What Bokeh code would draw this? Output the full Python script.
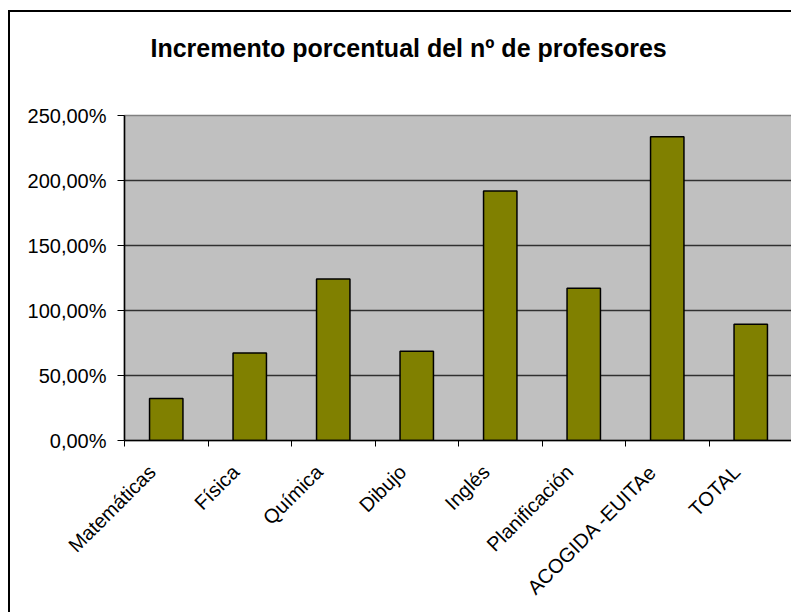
import math
from bokeh.plotting import figure
from bokeh.models import Range1d, FixedTicker, ColumnDataSource, CustomJSTickFormatter, Title
from bokeh.embed import file_html
from bokeh.resources import INLINE

title_text = "Incremento porcentual del nº de profesores"
categories = ["Matemáticas", "Física", "Química", "Dibujo", "Inglés",
              "Planificación", "ACOGIDA -EUITAe", "TOTAL"]
values = [32.3, 67.4, 124.3, 68.6, 191.9, 117.1, 233.7, 89.4]
y_ticks = [0, 50, 100, 150, 200, 250]
y_tick_labels = ["0,00%", "50,00%", "100,00%", "150,00%", "200,00%", "250,00%"]

n = len(categories)
x_centers = [i + 0.5 for i in range(n)]
# rotated labels sit slightly left of the category centre (as in the original)
label_pos = [c - 0.17 for c in x_centers]
source = ColumnDataSource(dict(x=x_centers, top=values, cat=categories))

FONT = "Liberation Sans"

p = figure(width=783, height=602, output_backend="svg", toolbar_location=None,
           x_range=Range1d(0, n), y_range=Range1d(y_ticks[0], y_ticks[-1]))
p.min_border_left = 114
p.min_border_right = 1
p.min_border_top = 103
p.min_border_bottom = 174
p.styles = {"border-left": "2px solid black", "border-top": "2px solid black",
            "margin-left": "8px", "margin-top": "10px"}

# spacer between plot area and title, then the title itself
spacer = Title(text=" ", text_font_size="1px", standoff=46)
main_title = Title(text=title_text, text_font=FONT, text_font_size="25px",
                   text_font_style="bold", text_color="black",
                   align="left", offset=26, standoff=10)
p.add_layout(spacer, "above")
p.add_layout(main_title, "above")

p.background_fill_color = "#C0C0C0"
p.border_fill_color = "white"
p.outline_line_color = "#808080"
p.outline_line_width = 1.5

p.vbar(x="x", top="top", width=0.4, source=source,
       fill_color="#808000", line_color="black", line_width=1.5)

# x axis
xa = p.xaxis[0]
xa.ticker = FixedTicker(ticks=label_pos, minor_ticks=list(range(n + 1)))
xa.formatter = CustomJSTickFormatter(args=dict(cat_names=categories),
                                     code="return cat_names[Math.floor(tick)];")
xa.major_tick_in = 0
xa.major_tick_out = 0
xa.minor_tick_in = 0
xa.minor_tick_out = 6
xa.minor_tick_line_color = "black"
xa.axis_line_color = "black"
xa.axis_line_width = 1.5
xa.major_label_orientation = math.pi / 4
xa.major_label_text_font = FONT
xa.major_label_text_font_size = "20px"
xa.major_label_text_color = "black"
xa.major_label_standoff = 22

# y axis
ya = p.yaxis[0]
ya.ticker = FixedTicker(ticks=y_ticks)
ya.formatter = CustomJSTickFormatter(args=dict(yvals=y_ticks, ylabs=y_tick_labels),
                                     code="return ylabs[yvals.indexOf(tick)];")
ya.major_tick_in = 0
ya.major_tick_out = 7
ya.minor_tick_out = 0
ya.minor_tick_in = 0
ya.major_tick_line_color = "black"
ya.axis_line_color = "black"
ya.axis_line_width = 1.5
ya.major_label_text_font = FONT
ya.major_label_text_font_size = "20px"
ya.major_label_text_color = "black"
ya.major_label_standoff = 11

p.xgrid.visible = False
p.ygrid.ticker = FixedTicker(ticks=y_ticks)
p.ygrid.grid_line_color = "#303030"
p.ygrid.grid_line_width = 1.3

open("out.html", "w").write(file_html(p, INLINE))
